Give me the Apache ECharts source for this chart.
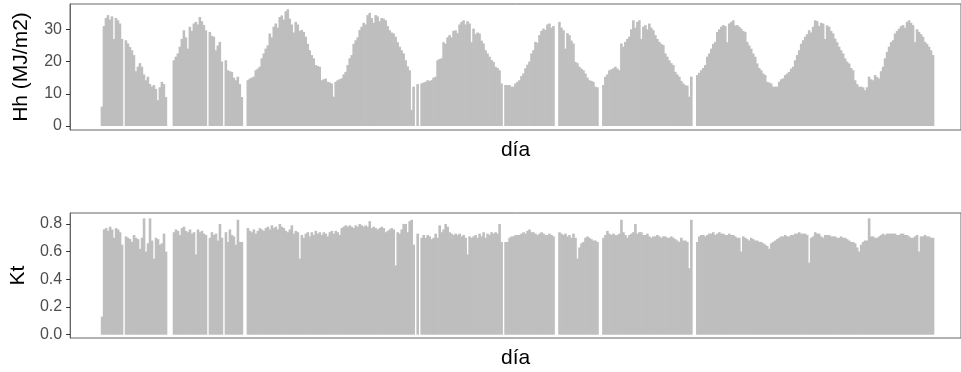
<!DOCTYPE html>
<html>
<head>
<meta charset="utf-8">
<script src="https://cdn.jsdelivr.net/npm/echarts@6/dist/echarts.min.js"></script>
<style>
html,body{margin:0;padding:0;background:#fff;}
#c{width:961px;height:372px;}
</style>
</head>
<body>
<div id="c"></div>
<script>
// Daily series, aggregated to one value per ~2 px column (index = time step)
const hh = [
6,31,33.5,34.4,33,34,27,33.5,32.8,31.8,
27,null,26.6,25.6,24.5,23.5,22,17,18.4,19.5,
18.4,16,14.2,15.3,13,12.2,12.7,11.5,8,12,
13.7,13,9,null,null,null,20.4,21.5,22.5,24.6,
27,29.7,27.5,24,30.8,29.5,31.8,32.3,31.5,33.8,
32.5,31.3,29.7,null,29.2,28,27.7,23.5,25,26.1,
20,null,20.4,17.3,17,16.8,15,14.2,15.3,13,
9,null,null,14.2,14.7,15,15.3,17.3,17.8,18.4,
21,22.5,24,25,28.7,27.5,30.8,31.8,30.5,33.8,
34.3,33,35.6,36.2,33.3,31.5,29,32.3,31.5,29.5,
29.8,29.2,27.7,25.5,23.5,22,21,18.9,18.6,18.4,
14.2,14.5,14.7,13.7,13.5,13.2,9.1,13.7,14.2,14.5,
14.8,16,16.8,18.9,21,22,25.5,26.6,27.5,29.8,
30.8,32,31.5,34.4,35.1,33.5,32,34.4,34,32.5,
33.5,33.3,32.8,31,29.7,29,28.7,27.7,26,24.6,
23.5,22.5,20.4,18.5,17.3,5,12.2,null,13,null,
13.2,13.5,13.7,14.2,14,14.2,15,15.3,20.4,20.8,
21,26,25.5,27.5,28.2,27.5,29.5,29.7,28.8,31.5,
32.3,32.8,31.5,32.5,31.8,26,30.2,28.5,29,28.7,
26.5,25.6,23.5,22.5,21.5,20.5,19.9,18.4,18,17.3,
13.2,null,12.7,12.7,12.7,12.2,12.2,13.2,13.7,14.2,
15.5,16.3,17.9,19,20,22.5,23.5,26.1,25.8,28.2,
29.5,30.2,29.8,31.5,31.8,30.5,31,null,null,32.3,
30.5,29.7,24,28.8,28.2,26.5,25.6,19.9,19.5,18.4,
17.8,17.3,16.3,15,14.2,14,13.7,12.2,12,null,
null,12.7,15.3,16,17.3,17.6,17.9,18.4,17.8,17.3,
25.6,24.6,26.1,27,27.7,30,32.8,30.5,32.3,32.8,
27,30.8,31.3,30,31.8,30.5,29.7,28.2,27,26.1,
25.5,25.1,22.5,21.5,20.4,19.5,18.9,16.8,16,15.3,
14,13.2,12.7,12.5,9.1,15.3,null,null,15.8,16.5,
17.3,18,18.9,21.5,22.5,24,25.5,26.1,29.2,30,
30.8,31.3,31,26,31.8,32.3,32.8,31.2,31.3,30.8,
30.2,29.5,29.2,26.1,25,24,22.5,21.5,19.4,18,
17.3,16.3,15.8,13.7,13.5,13.2,12.2,12.2,12.2,13.7,
14.5,14.8,15.8,16.3,16.8,17.8,18.4,20.4,22,23.5,
25.5,26.6,27.7,28.5,29.7,29,30.8,32.8,32.5,31,
32,31.8,27,31.2,30.8,29.5,28.7,27.1,26,24.6,
23.5,22.5,21,20,19.4,18,17.3,14.2,13,12.2,
12.2,12,11.1,12,15.3,14.5,14.2,15.8,15.2,14.7,
17,18.4,21,23,24.6,26,26.6,28.7,29.5,30.2,
31,31.3,30.5,32.3,32.8,32,31.3,26,30,29.2,
28.5,27.7,26.1,25.5,24.6,23.5,22
];
const kt = [
0.13,0.76,0.77,0.75,0.78,0.76,0.70,0.77,0.76,0.74,
0.65,null,0.71,0.70,0.69,0.67,0.72,0.70,0.69,0.62,
0.70,0.84,0.60,0.66,0.84,0.68,0.55,0.70,0.69,0.65,
0.66,0.73,0.60,null,null,null,0.74,0.76,0.75,0.72,
0.77,0.78,0.75,0.74,0.76,0.73,0.74,0.58,0.76,0.74,
0.75,0.73,0.72,null,0.70,0.74,0.72,0.73,0.68,0.80,
0.70,null,0.74,0.67,0.76,0.72,0.71,0.65,0.83,0.67,
0.67,null,null,0.77,0.75,0.74,0.76,0.73,0.75,0.77,
0.76,0.75,0.77,0.78,0.76,0.79,0.77,0.78,0.76,0.80,
0.78,0.77,0.75,0.74,0.76,0.79,0.73,0.75,0.74,0.55,
0.72,0.70,0.73,0.74,0.71,0.74,0.72,0.75,0.73,0.74,
0.72,0.74,0.73,0.71,0.74,0.75,0.73,0.75,0.74,0.72,
0.77,0.78,0.79,0.78,0.79,0.78,0.77,0.79,0.78,0.80,
0.79,0.78,0.79,0.78,0.82,0.77,0.78,0.77,0.76,0.77,
0.78,0.77,0.74,0.75,0.76,0.77,0.76,0.50,0.74,0.73,
0.76,0.80,0.80,0.74,0.82,0.83,0.65,null,0.73,null,
0.70,0.72,0.70,0.72,0.71,0.69,0.70,0.73,0.70,0.79,
0.74,0.76,0.80,0.78,0.74,0.73,0.72,0.73,0.72,0.73,
0.71,0.72,0.70,0.58,0.71,0.70,0.71,0.72,0.70,0.73,
0.71,0.74,0.70,0.73,0.72,0.74,0.73,0.74,0.73,0.80,
0.67,null,0.67,0.67,0.70,0.71,0.71,0.72,0.72,0.72,
0.73,0.74,0.73,0.75,0.76,0.74,0.74,0.73,0.72,0.73,
0.74,0.73,0.72,0.72,0.73,0.72,0.71,null,null,0.74,
0.73,0.72,0.73,0.71,0.72,0.70,0.73,0.70,0.55,0.63,
0.66,0.67,0.70,0.71,0.70,0.69,0.68,0.68,0.67,null,
null,0.70,0.72,0.75,0.73,0.72,0.73,0.72,0.72,0.73,
0.83,0.74,0.72,0.70,0.72,0.73,0.74,0.80,0.73,0.74,
0.74,0.72,0.72,0.73,0.71,0.70,0.71,0.71,0.72,0.71,
0.70,0.71,0.71,0.70,0.70,0.71,0.70,0.69,0.68,0.67,
0.70,0.68,0.68,0.67,0.48,0.83,null,null,0.67,0.71,
0.72,0.72,0.71,0.72,0.73,0.73,0.74,0.72,0.73,0.74,
0.73,0.73,0.72,0.72,0.73,0.72,0.72,0.71,0.70,0.70,
0.60,0.71,0.70,0.69,0.68,0.70,0.69,0.68,0.68,0.67,
0.67,0.66,0.65,0.64,0.62,0.66,0.67,0.68,0.69,0.70,
0.71,0.71,0.72,0.71,0.71,0.72,0.72,0.73,0.73,0.74,
0.73,0.73,0.73,0.72,0.52,0.70,0.71,0.74,0.73,0.73,
0.71,0.70,0.72,0.72,0.72,0.71,0.71,0.71,0.70,0.70,
0.71,0.70,0.70,0.69,0.68,0.67,0.67,0.66,0.63,0.60,
0.65,0.67,0.68,0.68,0.84,0.71,0.71,0.70,0.70,0.71,
0.72,0.73,0.72,0.73,0.73,0.73,0.73,0.73,0.72,0.72,
0.73,0.73,0.72,0.72,0.71,0.70,0.70,0.71,0.72,0.60,
0.71,0.71,0.72,0.71,0.71,0.70,0.70
];
const hhTicks = [0, 10, 20, 30];
const ktTicks = [0, 0.2, 0.4, 0.6, 0.8];
const xTitle = 'día';
const hhTitle = 'Hh (MJ/m2)';
const ktTitle = 'Kt';

const toPairs = arr => arr.map((v, i) => [i, v]);

const FONT = '"Liberation Sans", Arial, "DejaVu Sans", sans-serif';
const frame = '#666666';
const barColor = '#bebebe';

function xAxisCfg(gi) {
  return {
    type: 'value', gridIndex: gi, min: -16, max: 430,
    axisLine: {show: false, onZero: false}, axisTick: {show: false}, axisLabel: {show: false},
    splitLine: {show: false},
    name: xTitle, nameLocation: 'middle', nameGap: 10,
    nameTextStyle: {fontFamily: FONT, fontSize: 21, color: '#000', verticalAlign: 'top'}
  };
}
function yAxisCfg(gi, min, max, ticks, title, fmt) {
  return {
    type: 'value', gridIndex: gi, min: min, max: max,
    axisLine: {show: true, onZero: false, lineStyle: {color: frame, width: 1}},
    axisTick: {show: true, length: 4, customValues: ticks, lineStyle: {color: '#333', width: 1}},
    axisLabel: {show: true, customValues: ticks, margin: 8, fontFamily: FONT, fontSize: 16, color: '#4d4d4d', formatter: fmt},
    splitLine: {show: false},
    name: title, nameLocation: 'middle', nameRotate: 90, nameGap: 38,
    nameTextStyle: {fontFamily: FONT, fontSize: 21, color: '#000'}
  };
}

const chart = echarts.init(document.getElementById('c'), null, {renderer: 'canvas'});
chart.setOption({
  animation: false,
  backgroundColor: '#ffffff',
  grid: [
    {left: 70, top: 4, width: 892, height: 126, show: true, borderColor: frame, borderWidth: 1, backgroundColor: 'transparent'},
    {left: 70, top: 213, width: 892, height: 125, show: true, borderColor: frame, borderWidth: 1, backgroundColor: 'transparent'}
  ],
  xAxis: [xAxisCfg(0), xAxisCfg(1)],
  yAxis: [
    yAxisCfg(0, -1.24, 37.85, hhTicks, hhTitle, v => String(v)),
    yAxisCfg(1, -0.024, 0.879, ktTicks, ktTitle, v => Number(v).toFixed(1))
  ],
  series: [
    {type: 'bar', xAxisIndex: 0, yAxisIndex: 0, data: toPairs(hh), barWidth: 2.6, itemStyle: {color: barColor}, silent: true},
    {type: 'bar', xAxisIndex: 1, yAxisIndex: 1, data: toPairs(kt), barWidth: 2.6, itemStyle: {color: barColor}, silent: true}
  ]
});
</script>
</body>
</html>
